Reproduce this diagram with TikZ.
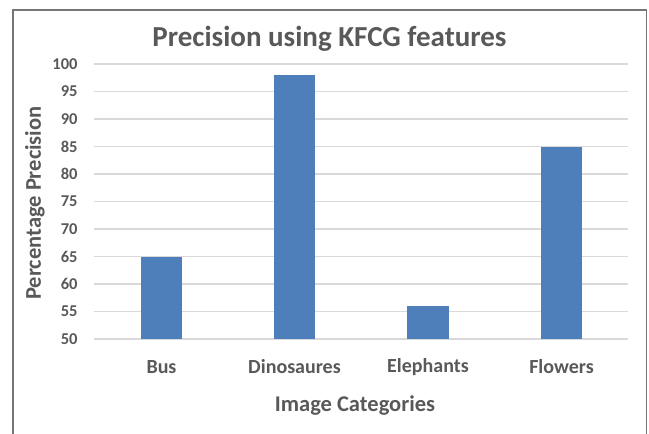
\documentclass[tikz,border=0pt]{standalone}
\usepackage{fontspec}
\setmainfont{Carlito}
\definecolor{txtgray}{HTML}{595959}
\definecolor{gridgray}{HTML}{D9D9D9}
\definecolor{framegray}{HTML}{767676}
\definecolor{barblue}{HTML}{4F7FBB}
\begin{document}
\begin{tikzpicture}[x=1pt,y=-1pt,
  every node/.style={inner sep=0pt,outer sep=0pt,text=txtgray,font=\bfseries},
  gridline/.style={draw=gridgray,line width=1.2pt},
  bar/.style={fill=barblue,draw=none},
  ticklabel/.style={anchor=east,font=\fontsize{16.5}{16.5}\selectfont\bfseries},
  catlabel/.style={anchor=center,font=\fontsize{20}{20}\selectfont\bfseries},
  axistitle/.style={font=\fontsize{22.5}{22.5}\selectfont\bfseries}]
  \useasboundingbox (0,0) rectangle (649,434);
  \fill[white] (0,0) rectangle (649,434);
  % chart frame (bottom edge lies outside the page)
  \begin{scope}
    \clip (0,0) rectangle (649,434);
    \draw[framegray,line width=1.6pt] (13,450) -- (13,10) -- (646.5,10) -- (646.5,450);
  \end{scope}
  % horizontal grid and tick labels, 50 to 100 in steps of 5
  \foreach \v [count=\i from 0] in {50,55,...,100} {
    \pgfmathsetmacro{\yy}{339-27.5*\i}
    \coordinate (gl\v) at (94,\yy);
    \coordinate (gr\v) at (627.5,\yy);
    \draw[gridline] (gl\v) -- (gr\v);
    \node[ticklabel] (t\v) at (77.5,\yy) {\v};
  }
  % bars: value v sits at y = 339 - 5.5*(v-50)
  \foreach \name/\cx/\val in {bus/161.5/65, dino/294.5/98, eleph/428/56, flow/561.5/85} {
    \pgfmathsetmacro{\top}{339-5.5*(\val-50)}
    \fill[bar] (\cx-20.75,339) rectangle (\cx+20.75,\top);
  }
  % category labels
  \node[catlabel] (cbus) at (161.5,367) {Bus};
  \node[catlabel] (cdino) at (294.5,367) {Dinosaures};
  \node[catlabel] (celeph) at (428,367) {Elephants};
  \node[catlabel] (cflow) at (561.5,367) {Flowers};
  % titles
  \node[font=\fontsize{29}{29}\selectfont\bfseries] (title) at (329.5,38.5) {Precision using KFCG features};
  \node[axistitle] (xtitle) at (355,405.5) {Image Categories};
  \node[axistitle,rotate=90] (ytitle) at (35,203) {Percentage Precision};
\end{tikzpicture}
\end{document}
